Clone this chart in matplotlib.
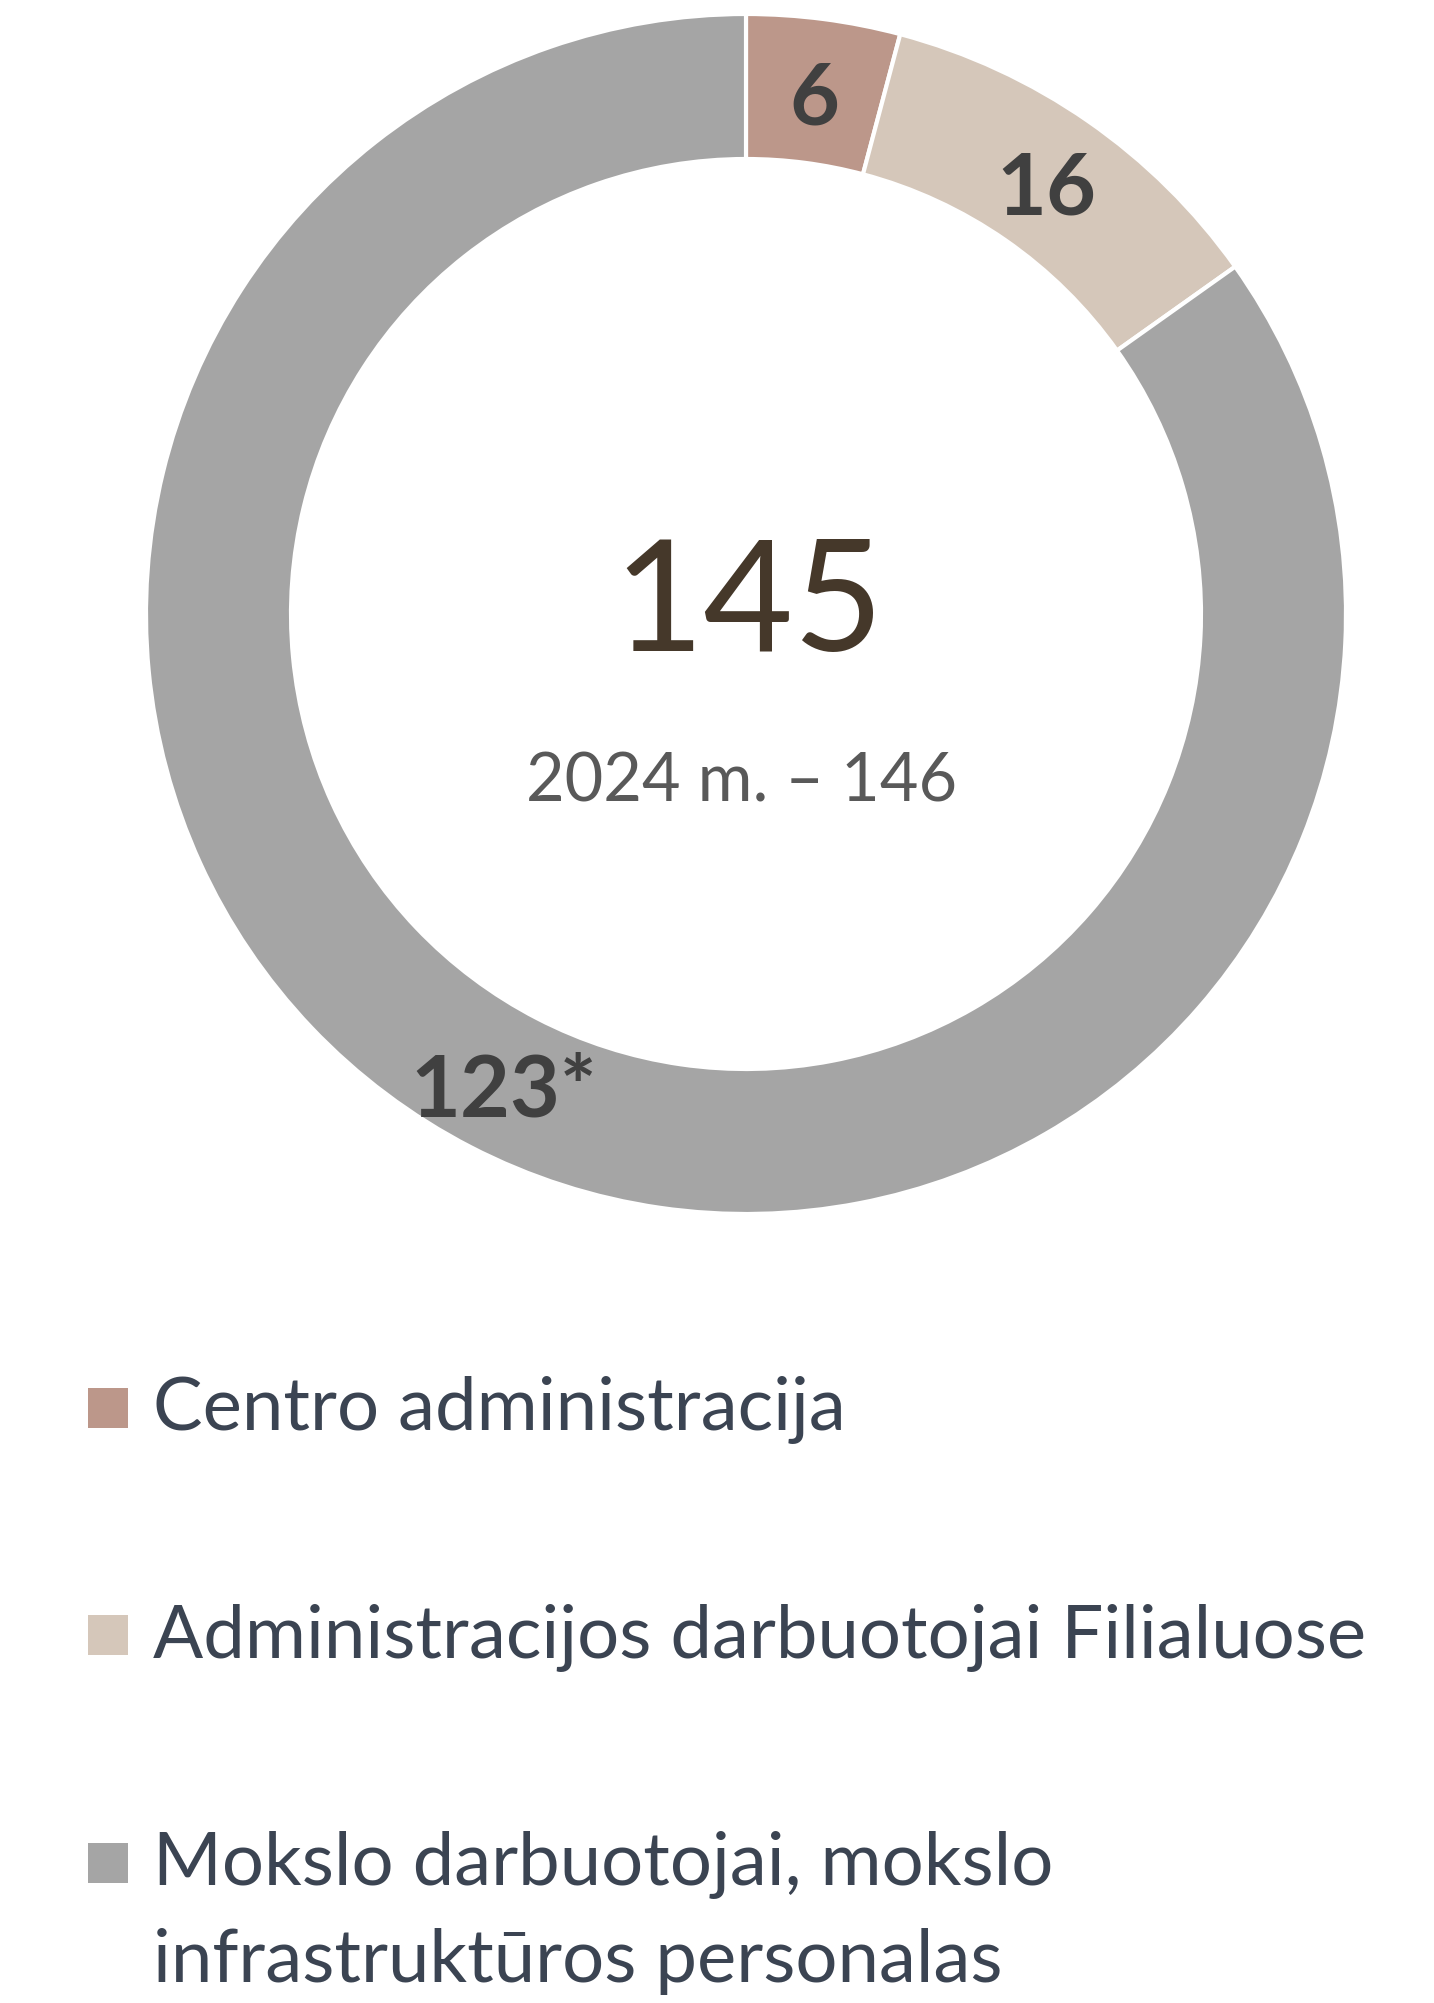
import matplotlib
matplotlib.use("Agg")
import matplotlib.pyplot as plt
import numpy as np
from matplotlib.patches import Rectangle

categories = ["Centro administracija",
              "Administracijos darbuotojai Filialuose",
              "Mokslo darbuotojai, mokslo\ninfrastruktūros personalas"]
values = [6, 16, 123]
value_labels = ["6", "16", "123*"]
colors = ["#BC978A", "#D5C7BA", "#A5A5A5"]
total_label = "145"
prev_label = "2024 m. – 146"

W, H = 1434, 2003
DPI = 100
fig = plt.figure(figsize=(W / DPI, H / DPI), dpi=DPI)
fig.patch.set_facecolor("white")

FONT = "Lato"
cx, cy, R = 746, 614, 600
ax = fig.add_axes([(cx - R) / W, (H - cy - R) / H, 2 * R / W, 2 * R / H])

ring_w = 145 / 600
wedges, _ = ax.pie(values, colors=colors, startangle=90, counterclock=False,
                   radius=1, wedgeprops=dict(width=ring_w, edgecolor="white", linewidth=3))
ax.set_xlim(-1, 1)
ax.set_ylim(-1, 1)
ax.set_aspect("equal")
ax.axis("off")

tot = sum(values)
start = 90.0
r_lab = 1 - ring_w / 2
for v, lab in zip(values, value_labels):
    ang = start - v / tot * 360 / 2
    start -= v / tot * 360
    x = r_lab * np.cos(np.radians(ang))
    y = r_lab * np.sin(np.radians(ang)) - 0.015
    ax.text(x, y, lab, ha="center", va="center", fontsize=62, fontweight="bold",
            color="#404040", family=FONT)

# center texts
fig.text(748 / W, 1 - 651 / H, total_label, ha="center", va="baseline",
         fontsize=112, color="#45382A", family=FONT)
fig.text(742 / W, 1 - 801 / H, prev_label, ha="center", va="baseline",
         fontsize=48, color="#595959", family=FONT)

# legend
baselines = [[1430], [1658], [1885, 1982]]
sq_bottoms = [1428, 1655, 1883]
leg_fs = 53.5
for cat, col, bl, sb in zip(categories, colors, baselines, sq_bottoms):
    fig.patches.append(Rectangle((88 / W, 1 - sb / H), 40 / W, 40 / H,
                                 transform=fig.transFigure, facecolor=col,
                                 edgecolor="none"))
    for line, b in zip(cat.split("\n"), bl):
        fig.text(153 / W, 1 - b / H, line, ha="left", va="baseline",
                 fontsize=leg_fs, color="#3B4452", family=FONT)

fig.savefig("out.png", dpi=DPI, facecolor="white")
